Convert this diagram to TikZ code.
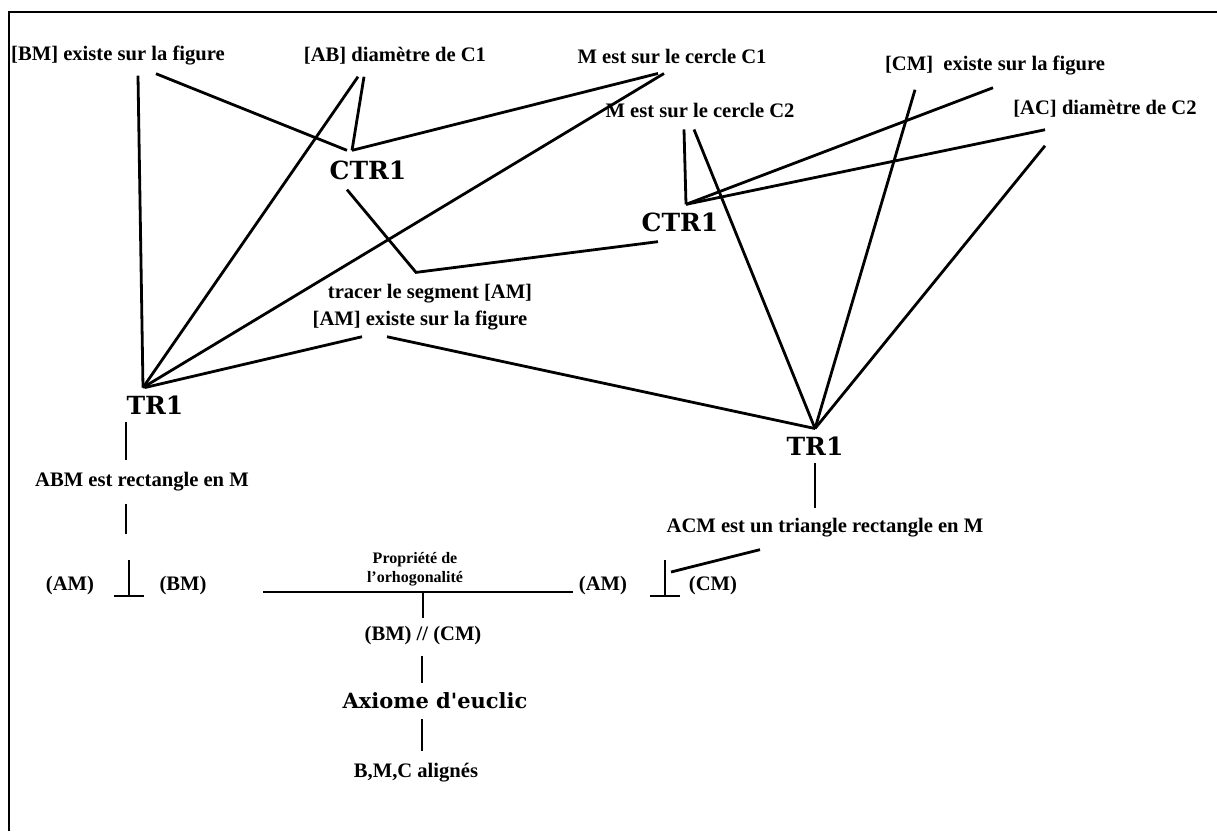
\documentclass[tikz,border=0pt]{standalone}
\usepackage{fontspec}
\setmainfont{Liberation Serif}
\newfontfamily\regfont{DejaVu Serif}

\begin{document}
\begin{tikzpicture}[x=1pt,y=-1pt,
    every node/.style={inner sep=0pt},
    txt/.style={font=\bfseries\fontsize{20.6}{25}\selectfont},
    regle/.style={font=\regfont\bfseries\fontsize{25}{28}\selectfont},
    axiome/.style={font=\regfont\bfseries\fontsize{21}{24}\selectfont},
    petit/.style={font=\bfseries\fontsize{16}{18}\selectfont},
    lien/.style={line width=2.8pt},
    trait/.style={line width=1.8pt}]
    \useasboundingbox (0,0) rectangle (1217,831);
    %\draw [help lines,step=100] (0,0) grid (1217,831);

    % cadre
    \coordinate (cadreB) at (9,831);
    \coordinate (cadreH) at (9,12);
    \coordinate (cadreD) at (1217,12);
    \draw[trait] (cadreB) -- (cadreH) -- (cadreD);

    % premisses
    \node[txt] (BMex) at (118,56) {[BM] existe sur la figure};
    \node[txt] (ABdiam) at (395,56) {[AB] diamètre de C1};
    \node[txt] (MC1) at (672,56) {M est sur le cercle C1};
    \node[txt] (CMex) at (995,66) {[CM]\ \ existe sur la figure};
    \node[txt] (MC2) at (700,110) {M est sur le cercle C2};
    \node[txt] (ACdiam) at (1105,109) {[AC] diamètre de C2};

    \node[regle] (CTR1l) at (368,170) {CTR1};
    \node[regle] (CTR1r) at (680,222) {CTR1};

    \node[txt] (tracer) at (430,294) {tracer le segment [AM]};
    \node[txt] (AMex) at (420,321) {[AM] existe sur la figure};

    \node[regle] (TR1l) at (155,405) {TR1};
    \node[regle] (TR1r) at (815,446) {TR1};

    \node[txt] (ABMrect) at (142,482) {ABM est rectangle en M};
    \node[txt] (ACMrect) at (825,528) {ACM est un triangle rectangle en M};

    \node[txt] (AMl) at (70,586) {(AM)};
    \node[txt] (BMl) at (183,586) {(BM)};
    \node[txt] (AMr) at (603,586) {(AM)};
    \node[txt] (CMr) at (713,586) {(CM)};
    \node[petit] (prop) at (415,560) {Propriété de};
    \node[petit] (orho) at (415,579) {l'orhogonalité};

    \node[txt] (BMparCM) at (423,636) {(BM) // (CM)};
    \node[axiome] (euclide) at (435,701) {Axiome d'euclic};
    \node[txt] (BMCal) at (416,773) {B,M,C alignés};

    % symboles d'orthogonalite
    \coordinate (perpl) at (129,596);
    \coordinate (perpr) at (665,596);
    \draw[trait] (perpl) -- ++(0,-36);
    \draw[trait] ([shift={(-15,0)}]perpl) -- ([shift={(15,0)}]perpl);
    \draw[trait] (perpr) -- ++(0,-36);
    \draw[trait] ([shift={(-15,0)}]perpr) -- ([shift={(15,0)}]perpr);

    % CTR1 gauche
    \draw[lien] ([shift={(38,8)}]BMex.south) -- ([shift={(-21,-10)}]CTR1l.north);
    \draw[lien] ([shift={(-31,12)}]ABdiam.south) -- ([shift={(-16,-10)}]CTR1l.north);
    \draw[lien] ([shift={(-14,10)}]MC1.south) -- ([shift={(-16,-10)}]CTR1l.north);

    % TR1 gauche
    \draw[lien] ([shift={(20,10)}]BMex.south) -- ([shift={(-12,-8)}]TR1l.north);
    \draw[lien] ([shift={(-37,12)}]ABdiam.south) -- ([shift={(-12,-8)}]TR1l.north);
    \draw[lien] ([shift={(-8,10)}]MC1.south) -- ([shift={(-12,-8)}]TR1l.north);
    \draw[lien] ([shift={(-58,6)}]AMex.south) -- ([shift={(-10,-8)}]TR1l.north);

    % CTR1 -> tracer -> CTR1
    \draw[lien] ([shift={(-21,10)}]CTR1l.south) -- ([shift={(-14,-12)}]tracer.north)
        -- ([shift={(-22,10)}]CTR1r.south);

    % CTR1 droit
    \draw[lien] ([shift={(-16,12)}]MC2.south) -- ([shift={(6,-8)}]CTR1r.north);
    \draw[lien] ([shift={(-2,12)}]CMex.south) -- ([shift={(6,-8)}]CTR1r.north);
    \draw[lien] ([shift={(-60,12)}]ACdiam.south) -- ([shift={(6,-8)}]CTR1r.north);

    % TR1 droit
    \draw[lien] ([shift={(-33,6)}]AMex.south) -- ([shift={(0,-8)}]TR1r.north);
    \draw[lien] ([shift={(-6,12)}]MC2.south) -- ([shift={(0,-8)}]TR1r.north);
    \draw[lien] ([shift={(-80,14)}]CMex.south) -- ([shift={(0,-8)}]TR1r.north);
    \draw[lien] ([shift={(-60,28)}]ACdiam.south) -- ([shift={(0,-8)}]TR1r.north);

    % conclusions
    \draw[trait] ([shift={(-29,8)}]TR1l.south) -- ([shift={(-16,-12)}]ABMrect.north);
    \draw[trait] ([shift={(-16,12)}]ABMrect.south) -- ([shift={(-16,42)}]ABMrect.south);
    \draw[trait] ([shift={(0,8)}]TR1r.south) -- ([shift={(-10,-10)}]ACMrect.north);
    \draw[lien] ([shift={(-65,12)}]ACMrect.south) -- ([shift={(6,-24)}]perpr);

    % propriete de l'orthogonalite
    \coordinate (propG) at (263,592);
    \coordinate (propD) at (573,592);
    \draw[trait] (propG) -- (propD);
    \draw[trait] (423,592) -- ([shift={(0,-8)}]BMparCM.north);
    \draw[trait] ([shift={(-1,10)}]BMparCM.south) -- ([shift={(-13,-10)}]euclide.north);
    \draw[trait] ([shift={(-13,10)}]euclide.south) -- ([shift={(6,-12)}]BMCal.north);
\end{tikzpicture}
\end{document}
